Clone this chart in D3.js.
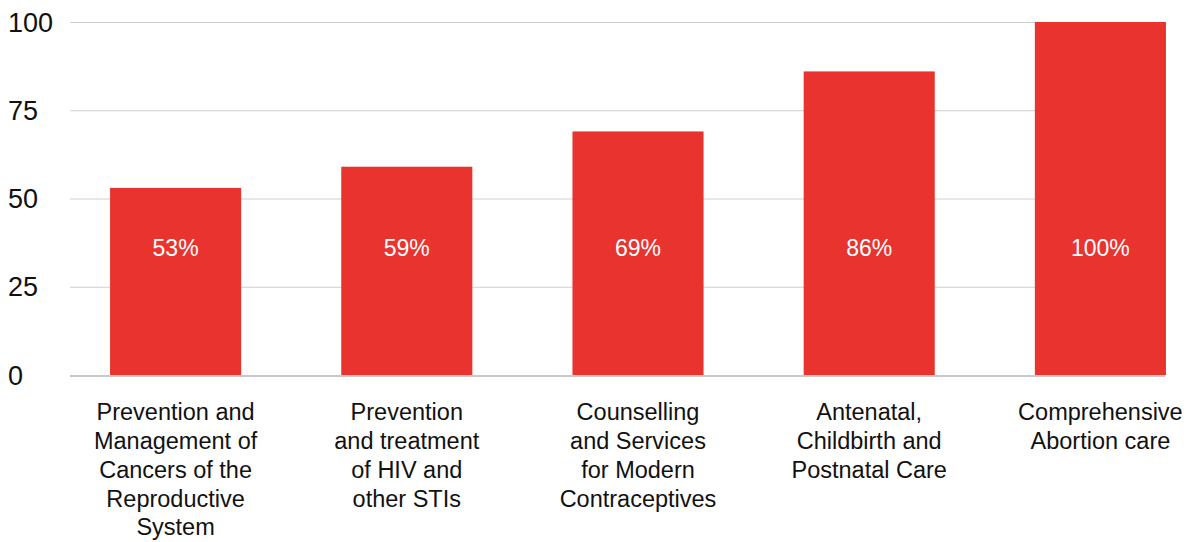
<!DOCTYPE html>
<html>
<head>
<meta charset="utf-8">
<script src="https://cdn.jsdelivr.net/npm/d3@7"></script>
<style>
  html, body { margin: 0; padding: 0; background: #fff; }
  svg { display: block; font-family: "Liberation Sans", Arial, Helvetica, sans-serif; }
</style>
</head>
<body>
<svg id="chart" width="1186" height="542"></svg>
<script>
// Service categories, one array of wrapped lines per bar
const categories = [
  ["Prevention and", "Management of", "Cancers of the", "Reproductive", "System"],
  ["Prevention", "and treatment", "of HIV and", "other STIs"],
  ["Counselling", "and Services", "for Modern", "Contraceptives"],
  ["Antenatal,", "Childbirth and", "Postnatal Care"],
  ["Comprehensive", "Abortion care"]
];
const values = [53, 59, 69, 86, 100];
const yTicks = [0, 25, 50, 75, 100];

const svg = d3.select("#chart");

const x = d3.scaleBand()
  .domain(d3.range(categories.length))
  .range([60, 1216])
  .paddingInner(0.433)
  .paddingOuter(0.2165);

const y = d3.scaleLinear().domain([0, 100]).range([375, 22]);

const gridLeft = 70, gridRight = 1165;

// horizontal gridlines
svg.append("g")
  .selectAll("line")
  .data(yTicks.filter(d => d !== 0))
  .join("line")
  .attr("x1", gridLeft).attr("x2", gridRight)
  .attr("y1", d => y(d) + 0.5).attr("y2", d => y(d) + 0.5)
  .attr("stroke", "#cfcfcf").attr("stroke-width", 1);

// y tick labels, left aligned
svg.append("g")
  .selectAll("text")
  .data(yTicks)
  .join("text")
  .attr("x", 8)
  .attr("y", d => y(d))
  .attr("dy", "0.36em")
  .attr("font-size", 27)
  .attr("fill", "#111")
  .text(d => d);

// bars
svg.append("g")
  .selectAll("rect")
  .data(values)
  .join("rect")
  .attr("x", (d, i) => x(i))
  .attr("width", x.bandwidth())
  .attr("y", d => y(d))
  .attr("height", d => y(0) - y(d))
  .attr("fill", "#e9332e");

// baseline
svg.append("line")
  .attr("x1", gridLeft).attr("x2", gridRight)
  .attr("y1", y(0) + 1).attr("y2", y(0) + 1)
  .attr("stroke", "#c8c8c8").attr("stroke-width", 2);

// value labels inside bars
svg.append("g")
  .selectAll("text")
  .data(values)
  .join("text")
  .attr("x", (d, i) => x(i) + x.bandwidth() / 2)
  .attr("y", y(36))
  .attr("dy", "0.36em")
  .attr("text-anchor", "middle")
  .attr("font-size", 23)
  .attr("fill", "#fff")
  .text(d => d + "%");

// category labels
const cat = svg.append("g")
  .selectAll("text")
  .data(categories)
  .join("text")
  .attr("text-anchor", "middle")
  .attr("font-size", 23.5)
  .attr("fill", "#111")
  .attr("x", (d, i) => x(i) + x.bandwidth() / 2)
  .attr("y", 412);

cat.selectAll("tspan")
  .data((d, i) => d.map(t => ({ t, i })))
  .join("tspan")
  .attr("x", d => x(d.i) + x.bandwidth() / 2)
  .attr("dy", (d, k) => k === 0 ? "0.36em" : "28.7px")
  .text(d => d.t);
</script>
</body>
</html>
